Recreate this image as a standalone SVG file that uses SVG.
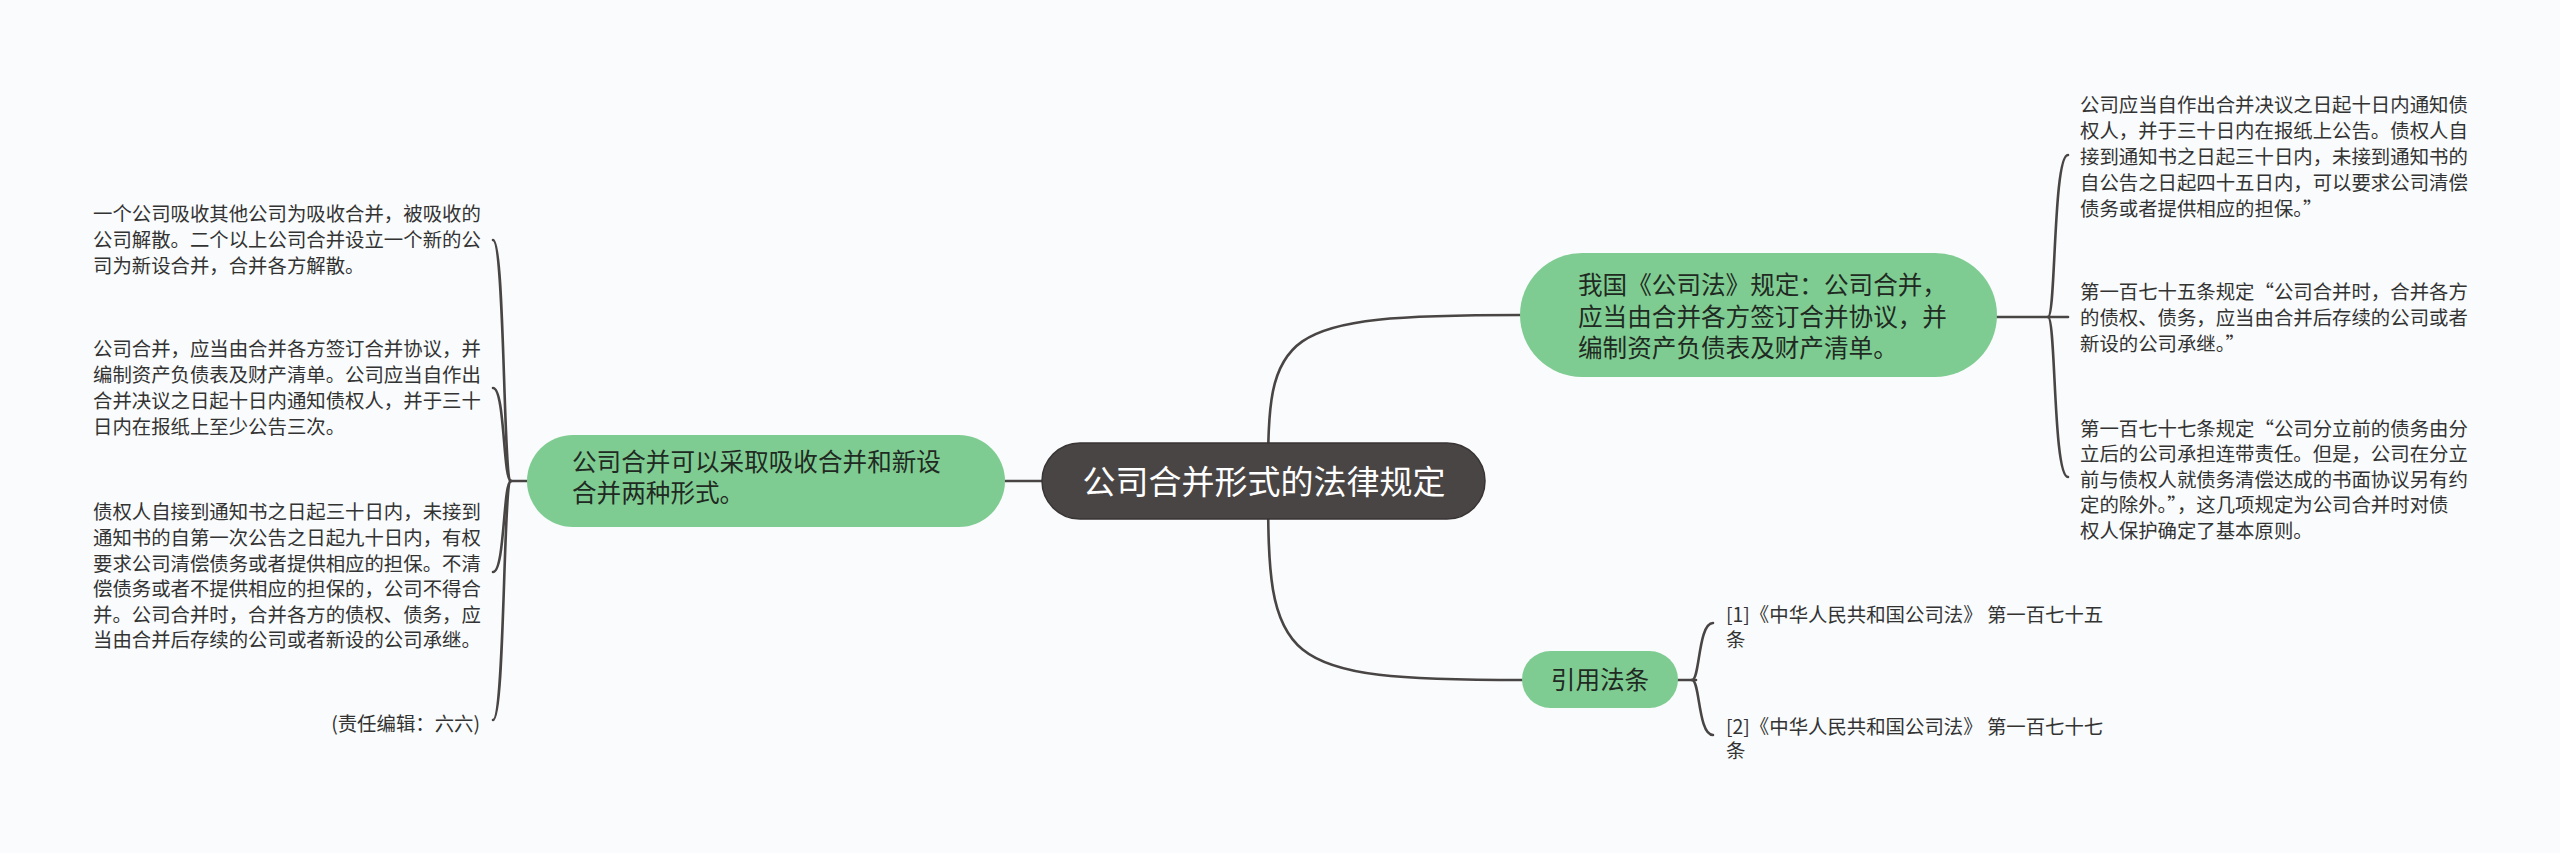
<svg xmlns="http://www.w3.org/2000/svg" width="2560" height="853" viewBox="0 0 2560 853">
<style>
.bg{fill:#f9fbfc}
.ln{fill:none;stroke:#4a4545;stroke-width:2.6;stroke-linecap:round}
.root{fill:#4a4545;stroke:#3a3535;stroke-width:1.5}
.main{fill:#7fcc92}
.t{font-family:"Noto Sans CJK SC","Noto Sans",sans-serif}
.rt{font-size:33px;fill:#ffffff}
.mt{font-size:24.6px;fill:#1f2a22}
.lt{font-size:19.4px;fill:#333333}
</style>
<rect class="bg" x="0" y="0" width="2560" height="853"/>
<g id="connectors">
<line class="ln" x1="1005" y1="481" x2="1045" y2="481"/>
<path class="ln" d="M1268 481 C1268 330 1275 315 1522 315"/>
<path class="ln" d="M1268 481 C1268 665 1275 680 1524 680"/>
<line class="ln" x1="510" y1="481" x2="528" y2="481"/>
<path class="ln" d="M511 481 C503 481 505 240 493 240"/>
<path class="ln" d="M511 481 C503 481 505 388 493 388"/>
<path class="ln" d="M511 481 C503 481 505 572 493 572"/>
<path class="ln" d="M511 481 C503 481 505 720 493 720"/>
<line class="ln" x1="1995" y1="317" x2="2068" y2="317"/>
<path class="ln" d="M2048 317 C2056 317 2053 155 2068 155"/>
<path class="ln" d="M2048 317 C2056 317 2053 477 2068 477"/>
<line class="ln" x1="1676" y1="680" x2="1696" y2="680"/>
<path class="ln" d="M1692 680 C1700 680 1698 623 1713 623"/>
<path class="ln" d="M1692 680 C1700 680 1698 735 1713 735"/>
</g>
<g id="root">
<rect class="root" x="1042" y="443" width="443" height="76" rx="38"/>
<text class="t rt" x="1264" y="494" text-anchor="middle">公司合并形式的法律规定</text>
</g>
<g id="left-main">
<rect class="main" x="527" y="435" width="478" height="92" rx="46"/>
<text class="t mt"><tspan x="572" y="471">公司合并可以采取吸收合并和新设</tspan><tspan x="572" y="502">合并两种形式。</tspan></text>
</g>
<g id="right-main">
<rect class="main" x="1520" y="253" width="477" height="124" rx="62"/>
<text class="t mt"><tspan x="1578" y="294">我国《公司法》规定：公司合并，</tspan><tspan x="1578" y="326">应当由合并各方签订合并协议，并</tspan><tspan x="1578" y="357">编制资产负债表及财产清单。</tspan></text>
</g>
<g id="ref-main">
<rect class="main" x="1522" y="651" width="156" height="57" rx="28.5"/>
<text class="t mt" x="1600" y="689" text-anchor="middle">引用法条</text>
</g>
<g id="left-leaf-1">
<text class="t lt"><tspan x="93" y="221">一个公司吸收其他公司为吸收合并，被吸收的</tspan><tspan x="93" y="247">公司解散。二个以上公司合并设立一个新的公</tspan><tspan x="93" y="273">司为新设合并，合并各方解散。</tspan></text>
</g>
<g id="left-leaf-2">
<text class="t lt"><tspan x="93" y="356">公司合并，应当由合并各方签订合并协议，并</tspan><tspan x="93" y="382">编制资产负债表及财产清单。公司应当自作出</tspan><tspan x="93" y="408">合并决议之日起十日内通知债权人，并于三十</tspan><tspan x="93" y="434">日内在报纸上至少公告三次。</tspan></text>
</g>
<g id="left-leaf-3">
<text class="t lt"><tspan x="93" y="519">债权人自接到通知书之日起三十日内，未接到</tspan><tspan x="93" y="545">通知书的自第一次公告之日起九十日内，有权</tspan><tspan x="93" y="570.5">要求公司清偿债务或者提供相应的担保。不清</tspan><tspan x="93" y="596">偿债务或者不提供相应的担保的，公司不得合</tspan><tspan x="93" y="621.5">并。公司合并时，合并各方的债权、债务，应</tspan><tspan x="93" y="647">当由合并后存续的公司或者新设的公司承继。</tspan></text>
</g>
<g id="left-leaf-4">
<text class="t lt" x="480" y="731" text-anchor="end">(责任编辑：六六)</text>
</g>
<g id="right-leaf-1">
<text class="t lt"><tspan x="2080" y="112">公司应当自作出合并决议之日起十日内通知债</tspan><tspan x="2080" y="138">权人，并于三十日内在报纸上公告。债权人自</tspan><tspan x="2080" y="164">接到通知书之日起三十日内，未接到通知书的</tspan><tspan x="2080" y="190">自公告之日起四十五日内，可以要求公司清偿</tspan><tspan x="2080" y="216">债务或者提供相应的担保。”</tspan></text>
</g>
<g id="right-leaf-2">
<text class="t lt"><tspan x="2080" y="298.5">第一百七十五条规定“公司合并时，合并各方</tspan><tspan x="2080" y="324.5">的债权、债务，应当由合并后存续的公司或者</tspan><tspan x="2080" y="350.5">新设的公司承继。”</tspan></text>
</g>
<g id="right-leaf-3">
<text class="t lt"><tspan x="2080" y="435.5">第一百七十七条规定“公司分立前的债务由分</tspan><tspan x="2080" y="461">立后的公司承担连带责任。但是，公司在分立</tspan><tspan x="2080" y="486.5">前与债权人就债务清偿达成的书面协议另有约</tspan><tspan x="2080" y="512">定的除外。”，这几项规定为公司合并时对债</tspan><tspan x="2080" y="537.5">权人保护确定了基本原则。</tspan></text>
</g>
<g id="ref-1">
<text class="t lt"><tspan x="1726" y="622">[1]《中华人民共和国公司法》 第一百七十五</tspan><tspan x="1726" y="647">条</tspan></text>
</g>
<g id="ref-2">
<text class="t lt"><tspan x="1726" y="734">[2]《中华人民共和国公司法》 第一百七十七</tspan><tspan x="1726" y="758">条</tspan></text>
</g>
</svg>
